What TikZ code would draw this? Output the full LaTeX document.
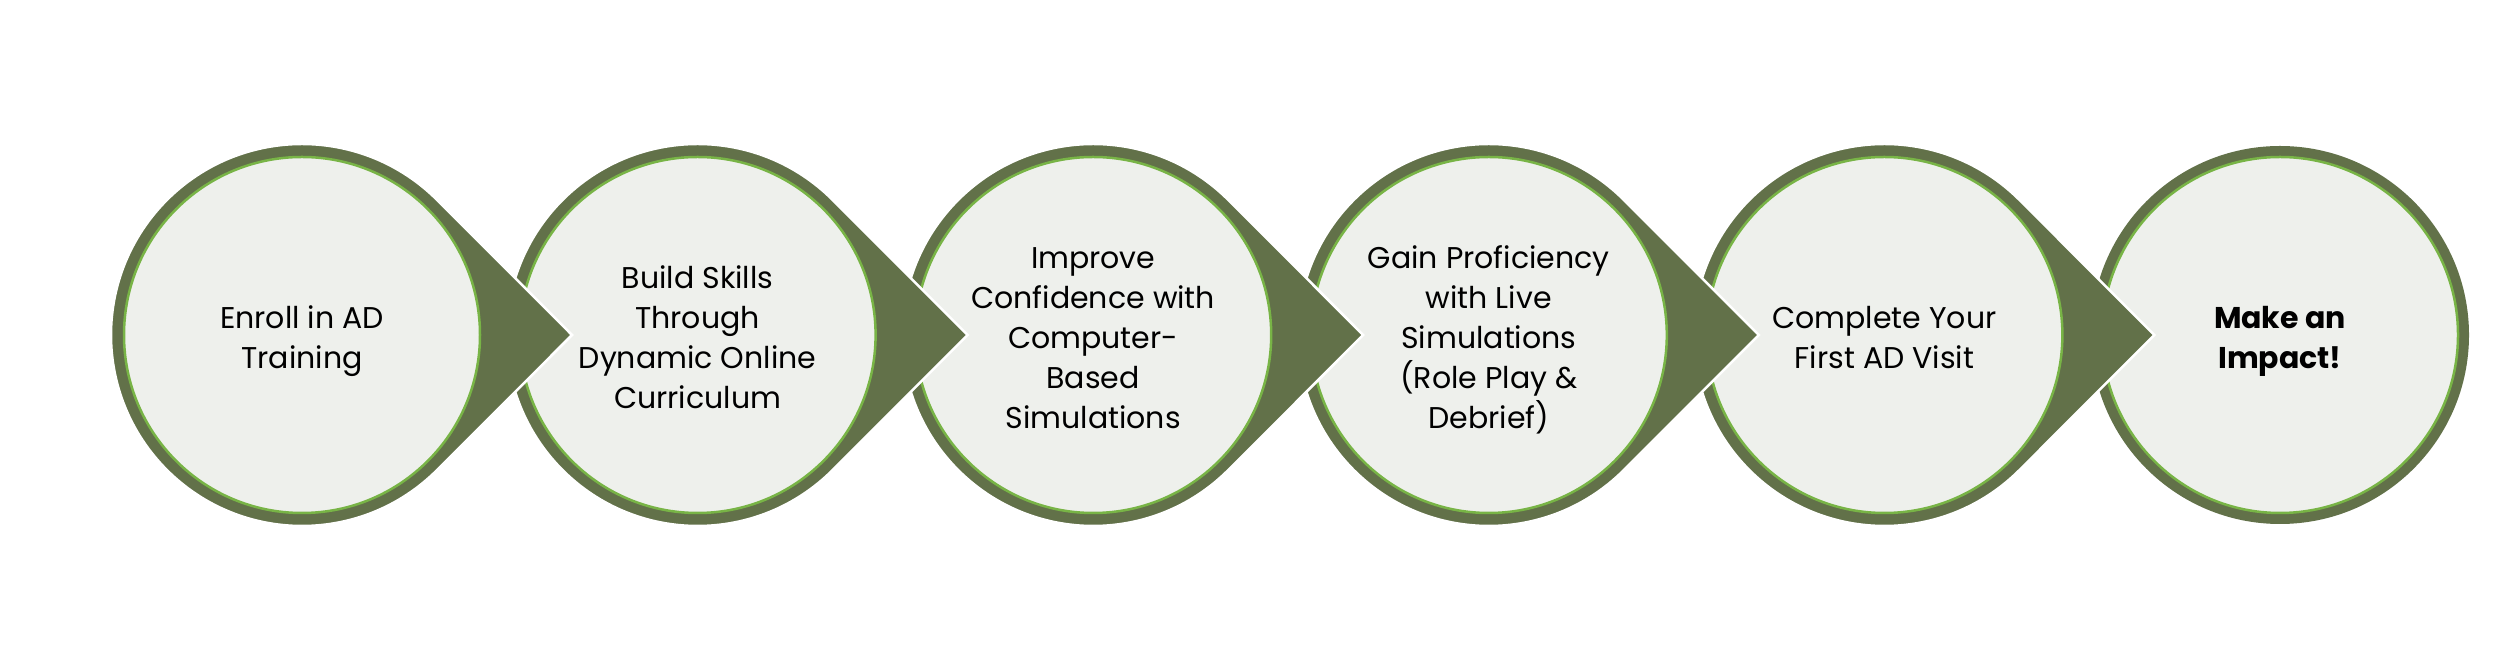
\documentclass[tikz,border=0pt]{standalone}
\usepackage{fontspec}
\setmainfont{Poppins}
\usetikzlibrary{calc}
\definecolor{dkgreen}{HTML}{627149}
\definecolor{paleface}{HTML}{EEF0EC}
\definecolor{ltgreen}{HTML}{78B446}
\tikzset{
  stepcirc/.style={circle, minimum size=356pt, inner sep=0pt, fill=paleface, draw=ltgreen, line width=2.5pt},
  steptext/.style={align=center, text=black, inner sep=0pt, yshift=-5.5pt, font=\fontsize{30}{40}\selectfont},
  teardrop/.style={fill=dkgreen, draw=white, line width=2.5pt, line join=miter},
}
\newcommand{\tearshape}[1]{%
  \path[teardrop] ($(#1)+(270pt,0)$) -- ($(#1)+(45:191pt)$) arc[start angle=45, end angle=315, radius=191pt] -- cycle;}
\begin{document}
\begin{tikzpicture}[x=1pt,y=1pt]
\fill[white] (0,0) rectangle (2500,671);
\useasboundingbox (0,0) rectangle (2500,671);
\coordinate (c1) at (302,336);
\coordinate (c2) at (697.6,336);
\coordinate (c3) at (1093.2,336);
\coordinate (c4) at (1488.8,336);
\coordinate (c5) at (1884.4,336);
\coordinate (c6) at (2280,336);
% last circle
\fill[dkgreen] (c6) circle[radius=189pt];
\node[stepcirc] (s6) at (c6) {};
\node[steptext] (t6) at (c6) {\strut\textbf{Make an}\\\textbf{Impact!}\strut};
% step 5
\tearshape{c5}
\node[stepcirc] (s5) at (c5) {};
\node[steptext] (t5) at (c5) {\strut Complete Your\\First AD Visit\strut};
% step 4
\tearshape{c4}
\node[stepcirc] (s4) at (c4) {};
\node[steptext] (t4) at (c4) {\strut Gain Proficiency\\with Live\\Simulations\\(Role Play \&\\Debrief)\strut};
% step 3
\tearshape{c3}
\node[stepcirc] (s3) at (c3) {};
\node[steptext] (t3) at (c3) {\strut Improve\\Confidence with\\Computer-\\Based\\Simulations\strut};
% step 2
\tearshape{c2}
\node[stepcirc] (s2) at (c2) {};
\node[steptext] (t2) at (c2) {\strut Build Skills\\Through\\Dynamic Online\\Curriculum\strut};
% step 1
\tearshape{c1}
\node[stepcirc] (s1) at (c1) {};
\node[steptext] (t1) at (c1) {\strut Enroll in AD\\Training\strut};
\end{tikzpicture}
\end{document}
